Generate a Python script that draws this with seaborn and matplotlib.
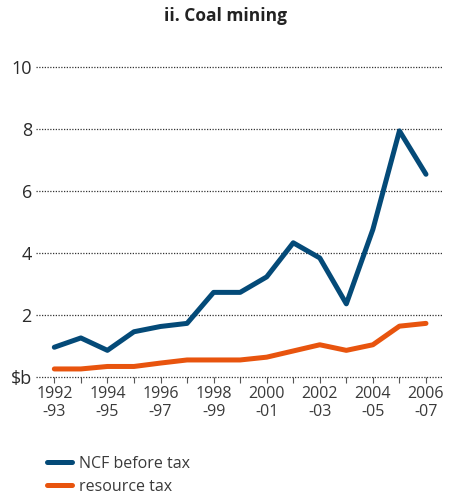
import matplotlib
matplotlib.use("Agg")
import matplotlib.pyplot as plt
import seaborn as sns
import pandas as pd

years = ["1992-93", "1993-94", "1994-95", "1995-96", "1996-97", "1997-98", "1998-99",
         "1999-00", "2000-01", "2001-02", "2002-03", "2003-04", "2004-05", "2005-06", "2006-07"]
ncf_before_tax = [0.95, 1.25, 0.85, 1.45, 1.62, 1.72, 2.72, 2.72, 3.22, 4.32, 3.83, 2.35, 4.75, 7.93, 6.53]
resource_tax = [0.25, 0.25, 0.33, 0.33, 0.44, 0.54, 0.54, 0.54, 0.63, 0.83, 1.03, 0.85, 1.03, 1.63, 1.72]
tick_labels = ["1992\n-93", "1994\n-95", "1996\n-97", "1998\n-99", "2000\n-01", "2002\n-03", "2004\n-05", "2006\n-07"]
y_ticks = [0, 2, 4, 6, 8, 10]
y_labels = ["$b", "2", "4", "6", "8", "10"]
series_names = ["NCF before tax", "resource tax"]
colors = ["#044A78", "#E8540E"]

df = pd.concat([
    pd.DataFrame({"idx": range(len(years)), "value": ncf_before_tax, "series": series_names[0]}),
    pd.DataFrame({"idx": range(len(years)), "value": resource_tax, "series": series_names[1]}),
])

sns.set_theme(style="white")
plt.rcParams["font.family"] = ["Open Sans", "DejaVu Sans"]

fig = plt.figure(figsize=(4.5, 5), dpi=100)
ax = fig.add_axes([0.08, 0.2466, 0.902, 0.62])

sns.lineplot(data=df, x="idx", y="value", hue="series", palette=colors,
             linewidth=3.6, ax=ax, legend=False, clip_on=False, zorder=3)

ax.set_xlim(-0.69, 14.6)
ax.set_ylim(0, 10)
for s in ax.spines.values():
    s.set_visible(False)

for y in y_ticks:
    ax.axhline(y, color="#333333", linestyle=(0, (1, 1.2)), linewidth=0.9, zorder=1, clip_on=False)

ax.set_yticks(y_ticks)
ax.set_yticklabels(y_labels, fontsize=13, color="#2a2a2a")
ax.tick_params(axis="y", length=0, pad=3)

ax.set_xticks(range(len(years)), minor=False)
ax.set_xticklabels([tick_labels[i // 2] if i % 2 == 0 else "" for i in range(len(years))],
                   fontsize=11.5, color="#3a3a3a", linespacing=1.15)
ax.tick_params(axis="x", length=4, width=0.8, color="#555555", pad=3, direction="out", bottom=True)
ax.set_xlabel("")
ax.set_ylabel("")
ax.grid(False)

fig.text(0.5, 0.968, "ii. Coal mining", ha="center", va="center", fontsize=12.5,
         fontweight="bold", color="#222222")

from matplotlib.lines import Line2D
handles = [Line2D([0], [0], color=c, linewidth=3.6, solid_capstyle="round") for c in colors]
fig.legend(handles, series_names, loc="upper left", bbox_to_anchor=(0.104, 0.088), frameon=False,
           fontsize=11.5, handlelength=1.55, handletextpad=0.45, labelspacing=0.42,
           borderaxespad=0, borderpad=0, labelcolor="#3a3a3a")

fig.savefig("out.png", dpi=100)
